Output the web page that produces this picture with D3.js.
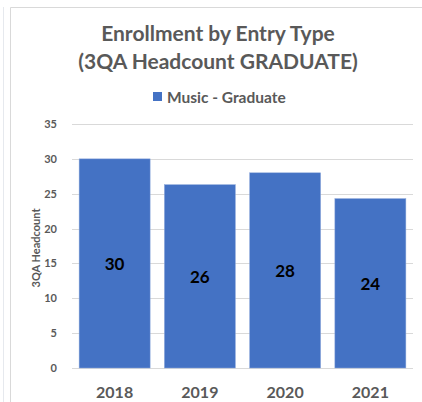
<!DOCTYPE html>
<html>
<head>
<meta charset="utf-8">
<script src="https://cdn.jsdelivr.net/npm/d3@7"></script>
<style>
  html, body { margin: 0; padding: 0; background: #fff; }
  svg { display: block; font-family: Lato, "Open Sans", sans-serif; }
</style>
</head>
<body>
<svg id="chart" width="422" height="402"></svg>
<script>
const titleLines = ["Enrollment by Entry Type", "(3QA Headcount GRADUATE)"];
const seriesName = "Music - Graduate";
const categories = ["2018", "2019", "2020", "2021"];
const values = [30, 26.3, 28, 24.3];
const yTicks = [0, 5, 10, 15, 20, 25, 30, 35];
const yTitle = "3QA Headcount";

const svg = d3.select("#chart");
const W = 422, H = 402;
const textColor = "#595959";
const barColor = "#4472C4";

// outer frame lines
svg.append("line").attr("x1", 3.5).attr("x2", 3.5).attr("y1", 7).attr("y2", H)
  .attr("stroke", "#e6e9ee").attr("stroke-width", 1);
svg.append("path").attr("d", `M10.5,${H} V7.5 H${W}`)
  .attr("fill", "none").attr("stroke", "#d9d9d9").attr("stroke-width", 1);

const plot = { left: 72, right: 413, top: 124, bottom: 368 };

const x = d3.scaleBand().domain(categories)
  .range([plot.left, plot.right]).paddingInner(0.167).paddingOuter(0.0835);
const y = d3.scaleLinear().domain([0, 35]).range([plot.bottom, plot.top]);

// gridlines
svg.append("g").selectAll("line").data(yTicks).join("line")
  .attr("x1", plot.left).attr("x2", plot.right)
  .attr("y1", d => Math.round(y(d)) + 0.5).attr("y2", d => Math.round(y(d)) + 0.5)
  .attr("stroke", "#d9d9d9").attr("stroke-width", 1);

// y axis labels
const yAxis = d3.axisLeft(y).tickValues(yTicks).tickSize(0).tickPadding(0);
const gy = svg.append("g").attr("transform", `translate(57,0)`).call(yAxis);
gy.select(".domain").remove();
gy.selectAll("text").attr("fill", textColor).attr("font-size", 11).attr("font-weight", "bold")
  .attr("font-family", "Lato, sans-serif");

// y title
svg.append("text").attr("transform", `translate(35,${(plot.top + plot.bottom) / 2 + 2}) rotate(-90)`)
  .attr("text-anchor", "middle").attr("dominant-baseline", "central")
  .attr("fill", textColor).attr("font-size", 11).attr("font-weight", "bold").text(yTitle);

// bars
svg.append("g").selectAll("rect").data(values).join("rect")
  .attr("x", (d, i) => x(categories[i]))
  .attr("width", x.bandwidth())
  .attr("y", d => y(d))
  .attr("height", d => y(0) - y(d))
  .attr("fill", barColor)
  .attr("stroke", "#8faadc").attr("stroke-width", 0.5);

// data labels
svg.append("g").selectAll("text").data(values).join("text")
  .attr("x", (d, i) => x(categories[i]) + x.bandwidth() / 2)
  .attr("y", d => (y(d) + y(0)) / 2)
  .attr("text-anchor", "middle").attr("dominant-baseline", "central")
  .attr("fill", "#000").attr("font-size", 17).attr("font-weight", "bold")
  .text(d => d3.format(".0f")(d));

// x axis labels
const xAxis = d3.axisBottom(x).tickSize(0).tickPadding(0);
const gx = svg.append("g").attr("transform", `translate(0,${plot.bottom})`).call(xAxis);
gx.select(".domain").remove();
gx.selectAll("text").attr("y", 23).attr("dy", null).attr("dominant-baseline", "central")
  .attr("fill", textColor).attr("font-size", 16).attr("font-weight", "bold")
  .attr("font-family", "Lato, sans-serif");

// title
svg.append("g").selectAll("text").data(titleLines).join("text")
  .attr("x", 218).attr("y", (d, i) => 32 + i * 28)
  .attr("text-anchor", "middle").attr("dominant-baseline", "central")
  .attr("fill", textColor).attr("font-size", 21).attr("font-weight", "bold").text(d => d);

// legend
const lg = svg.append("g");
lg.append("rect").attr("x", 153).attr("y", 92).attr("width", 9).attr("height", 9).attr("fill", barColor);
lg.append("text").attr("x", 167).attr("y", 96.5).attr("dominant-baseline", "central")
  .attr("fill", textColor).attr("font-size", 15.5).attr("font-weight", "bold").text(seriesName);
</script>
</body>
</html>
